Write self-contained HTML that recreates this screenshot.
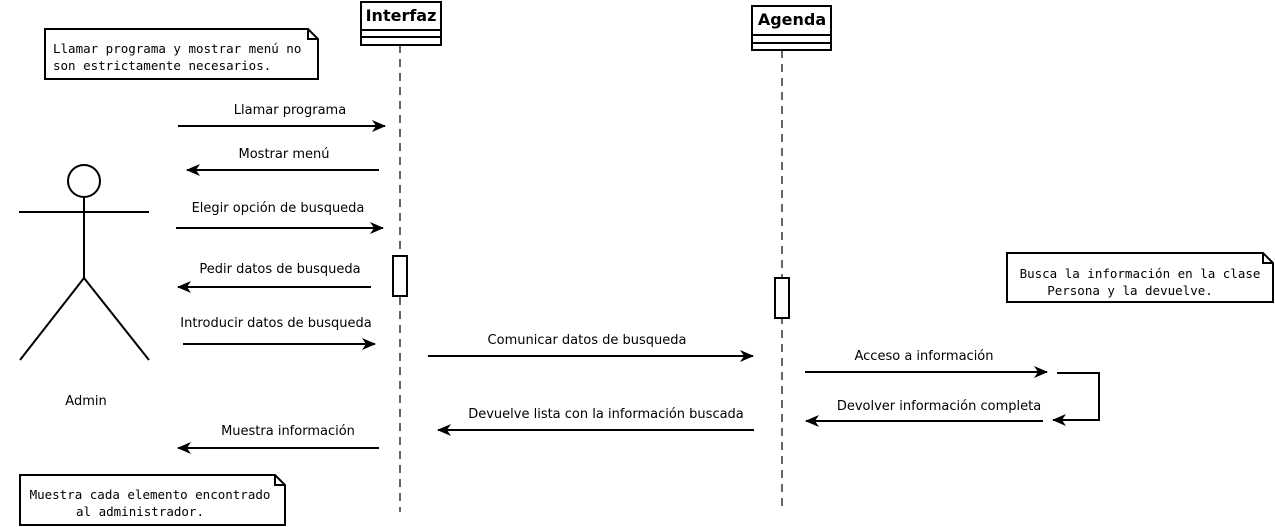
<!DOCTYPE html>
<html><head><meta charset="utf-8"><style>
html,body{margin:0;padding:0;background:#fff;}
svg{display:block;}
.l{font-family:"DejaVu Sans","Liberation Sans",sans-serif;font-size:13px;text-anchor:middle;fill:#000}
.m{font-family:"DejaVu Sans Mono","Liberation Mono",monospace;font-size:12.5px;fill:#000}
</style></head><body>
<svg width="1275" height="527" viewBox="0 0 1275 527" xmlns="http://www.w3.org/2000/svg">
<defs>
<marker id="a" markerWidth="14" markerHeight="12" refX="13" refY="6" orient="auto" markerUnits="userSpaceOnUse">
<path d="M0,0 L14,6 L0,12 L4,6 Z" fill="#000"/>
</marker>
</defs>
<g stroke="#000" stroke-width="2" fill="none">
<!-- lifelines -->
<line x1="400" y1="45" x2="400" y2="512" stroke-width="1.2" stroke-dasharray="8,6"/>
<line x1="782" y1="50" x2="782" y2="512" stroke-width="1.2" stroke-dasharray="8,6"/>
<rect x="361" y="2" width="80" height="43" fill="#fff"/>
<line x1="361" y1="30" x2="441" y2="30"/>
<line x1="361" y1="37" x2="441" y2="37"/>
<rect x="752" y="6" width="79" height="44" fill="#fff"/>
<line x1="752" y1="35" x2="831" y2="35"/>
<line x1="752" y1="43" x2="831" y2="43"/>
<rect x="393" y="256" width="14" height="40" fill="#fff"/>
<rect x="775" y="278" width="14" height="40" fill="#fff"/>
<!-- notes -->
<path d="M45,29 H308 L318,39 V79 H45 Z M308,29 V39 H318" fill="#fff"/>
<path d="M1007,253 H1263 L1273,263 V302 H1007 Z M1263,253 V263 H1273" fill="#fff"/>
<path d="M20,475 H275 L285,485 V525 H20 Z M275,475 V485 H285" fill="#fff"/>
<!-- actor -->
<circle cx="84" cy="181" r="16"/>
<line x1="19" y1="212" x2="149" y2="212"/>
<line x1="84" y1="197" x2="84" y2="278"/>
<line x1="84" y1="278" x2="20" y2="360"/>
<line x1="84" y1="278" x2="149" y2="360"/>
<!-- arrows -->
<line x1="178" y1="126" x2="385" y2="126" marker-end="url(#a)"/>
<line x1="379" y1="170" x2="187" y2="170" marker-end="url(#a)"/>
<line x1="176" y1="228" x2="383" y2="228" marker-end="url(#a)"/>
<line x1="371" y1="287" x2="178" y2="287" marker-end="url(#a)"/>
<line x1="183" y1="344" x2="375" y2="344" marker-end="url(#a)"/>
<line x1="428" y1="356" x2="753" y2="356" marker-end="url(#a)"/>
<line x1="805" y1="372" x2="1047" y2="372" marker-end="url(#a)"/>
<polyline points="1057,373 1099,373 1099,420 1053,420" marker-end="url(#a)"/>
<line x1="1043" y1="421" x2="806" y2="421" marker-end="url(#a)"/>
<line x1="754" y1="430" x2="438" y2="430" marker-end="url(#a)"/>
<line x1="379" y1="448" x2="178" y2="448" marker-end="url(#a)"/>
</g>
<text class="l" x="401" y="21" style="font-weight:bold;font-size:16px">Interfaz</text>
<text class="l" x="792" y="25" style="font-weight:bold;font-size:16px">Agenda</text>
<text class="m" x="53" y="53">Llamar programa y mostrar menú no</text>
<text class="m" x="53" y="70">son estrictamente necesarios.</text>
<text class="m" x="1140" y="278" text-anchor="middle">Busca la información en la clase</text>
<text class="m" x="1130" y="295" text-anchor="middle">Persona y la devuelve.</text>
<text class="m" x="150" y="499" text-anchor="middle">Muestra cada elemento encontrado</text>
<text class="m" x="140" y="516" text-anchor="middle">al administrador.</text>
<text class="l" x="86" y="405">Admin</text>
<text class="l" x="290" y="114">Llamar programa</text>
<text class="l" x="284" y="158">Mostrar menú</text>
<text class="l" x="278" y="212">Elegir opción de busqueda</text>
<text class="l" x="280" y="273">Pedir datos de busqueda</text>
<text class="l" x="276" y="327">Introducir datos de busqueda</text>
<text class="l" x="587" y="344">Comunicar datos de busqueda</text>
<text class="l" x="924" y="360">Acceso a información</text>
<text class="l" x="939" y="410">Devolver información completa</text>
<text class="l" x="606" y="418">Devuelve lista con la información buscada</text>
<text class="l" x="288" y="435">Muestra información</text>
</svg>
</body></html>
